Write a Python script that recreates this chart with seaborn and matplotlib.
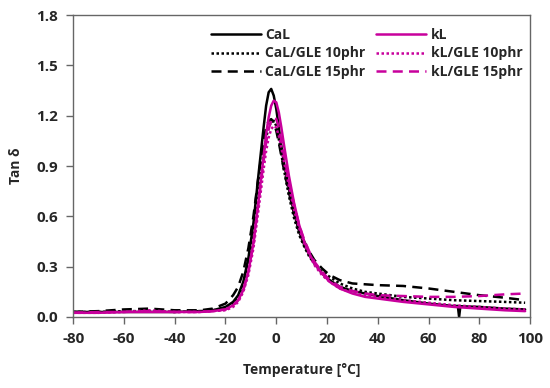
import numpy as np
import pandas as pd
import matplotlib
matplotlib.use("Agg")
import matplotlib.pyplot as plt
import seaborn as sns

# temperature grid (deg C)
temp = [-80, -70, -60, -50, -40, -30, -25, -20, -17, -15, -13, -11, -9, -7, -5, -4, -3, -2, -1,
        0, 1, 2, 3, 5, 7, 9, 11, 13, 15, 18, 21, 25, 30, 35, 40, 50, 60, 70, 80, 90, 98]

cal = [0.03, 0.03, 0.03, 0.03, 0.03, 0.035, 0.04, 0.06, 0.09, 0.13, 0.21, 0.35, 0.56, 0.85, 1.13, 1.26, 1.34, 1.36, 1.32,
       1.24, 1.13, 1.02, 0.92, 0.76, 0.62, 0.51, 0.43, 0.37, 0.32, 0.26, 0.22, 0.18, 0.155, 0.14, 0.125, 0.10, 0.08, 0.065, 0.06, 0.05, 0.045]
cal_10 = [0.03, 0.03, 0.035, 0.035, 0.03, 0.035, 0.04, 0.05, 0.08, 0.12, 0.19, 0.31, 0.50, 0.75, 0.98, 1.07, 1.13, 1.165, 1.17,
          1.14, 1.06, 0.97, 0.88, 0.72, 0.59, 0.49, 0.42, 0.36, 0.32, 0.27, 0.24, 0.20, 0.17, 0.15, 0.14, 0.12, 0.11, 0.10, 0.095, 0.09, 0.085]
cal_15 = [0.03, 0.035, 0.045, 0.05, 0.04, 0.04, 0.05, 0.08, 0.13, 0.18, 0.27, 0.41, 0.60, 0.84, 1.05, 1.13, 1.17, 1.18, 1.16,
          1.11, 1.04, 0.96, 0.88, 0.74, 0.62, 0.52, 0.45, 0.39, 0.34, 0.29, 0.25, 0.22, 0.20, 0.195, 0.19, 0.185, 0.17, 0.15, 0.13, 0.115, 0.10]
kl = [0.025, 0.025, 0.03, 0.03, 0.03, 0.03, 0.035, 0.045, 0.07, 0.10, 0.16, 0.27, 0.44, 0.69, 0.96, 1.09, 1.19, 1.26, 1.29,
      1.28, 1.22, 1.13, 1.03, 0.84, 0.68, 0.55, 0.45, 0.38, 0.32, 0.26, 0.21, 0.17, 0.14, 0.12, 0.11, 0.09, 0.075, 0.06, 0.05, 0.04, 0.035]
kl_10 = [0.025, 0.025, 0.03, 0.04, 0.03, 0.03, 0.035, 0.04, 0.06, 0.09, 0.15, 0.25, 0.41, 0.64, 0.88, 0.99, 1.07, 1.12, 1.14,
         1.13, 1.08, 1.01, 0.93, 0.78, 0.64, 0.53, 0.44, 0.37, 0.31, 0.25, 0.21, 0.17, 0.145, 0.13, 0.12, 0.10, 0.085, 0.07, 0.06, 0.05, 0.045]
kl_15 = [0.025, 0.03, 0.03, 0.035, 0.03, 0.03, 0.035, 0.045, 0.07, 0.10, 0.16, 0.27, 0.44, 0.68, 0.93, 1.04, 1.12, 1.17, 1.19,
         1.18, 1.13, 1.05, 0.97, 0.81, 0.67, 0.55, 0.46, 0.39, 0.33, 0.27, 0.22, 0.18, 0.155, 0.14, 0.13, 0.125, 0.12, 0.12, 0.125, 0.135, 0.14]

# glitch in the CaL curve near 72 C
glitch_t = [71.5, 72, 72.5]
glitch_v = [0.066, 0.0, 0.064]

x_ticks = [-80, -60, -40, -20, 0, 20, 40, 60, 80, 100]
y_ticks = [0.0, 0.3, 0.6, 0.9, 1.2, 1.5, 1.8]

MAG = "#C8009C"

sns.set_style("white")
plt.rcParams['font.family'] = ['Open Sans', 'DejaVu Sans']
plt.rcParams['font.weight'] = 'bold'
plt.rcParams['axes.unicode_minus'] = False

fig = plt.figure(figsize=(5.5, 3.88), dpi=100)
ax = fig.add_axes([0.133, 0.183, 0.831, 0.778])

# merge glitch into CaL series
cal_df = pd.DataFrame({"T": temp + glitch_t, "v": cal + glitch_v}).sort_values("T")

series = [
    ("CaL", cal_df["T"].values, cal_df["v"].values, "black", "-"),
    ("CaL/GLE 10phr", temp, cal_10, "black", (0, (1, 1))),
    ("CaL/GLE 15phr", temp, cal_15, "black", (0, (4, 2.5))),
    ("kL", temp, kl, MAG, "-"),
    ("kL/GLE 10phr", temp, kl_10, MAG, (0, (1, 1))),
    ("kL/GLE 15phr", temp, kl_15, MAG, (0, (4, 2.5))),
]

for label, t, v, col, ls in series:
    sns.lineplot(x=t, y=v, ax=ax, color=col, linestyle=ls, linewidth=1.8, label=label,
                 estimator=None, sort=False)

ax.set_xlim(-80, 100)
ax.set_ylim(0, 1.8)
ax.set_xticks(x_ticks)
ax.set_yticks(y_ticks)
ax.set_yticklabels([f"{t:.1f}" for t in y_ticks])
ax.tick_params(axis='both', direction='out', length=5, width=1, color='#666666',
               labelsize=11, bottom=True, left=True, pad=6)
for lab in ax.get_xticklabels() + ax.get_yticklabels():
    lab.set_fontweight('bold')
for sp in ax.spines.values():
    sp.set_color('#666666')
    sp.set_linewidth(1.0)

ax.set_xlabel("Temperature [°C]", fontsize=10, fontweight='bold', labelpad=12)
ax.set_ylabel("Tan δ", fontsize=10, fontweight='bold', labelpad=9)

ax.legend(ncol=2, frameon=False, loc='upper right', bbox_to_anchor=(1.01, 1.0),
          handlelength=3.6, columnspacing=0.8, handletextpad=0.3, labelspacing=0.35,
          prop={'size': 10, 'weight': 'bold'})

plt.savefig("out.png", dpi=100)
plt.close()
